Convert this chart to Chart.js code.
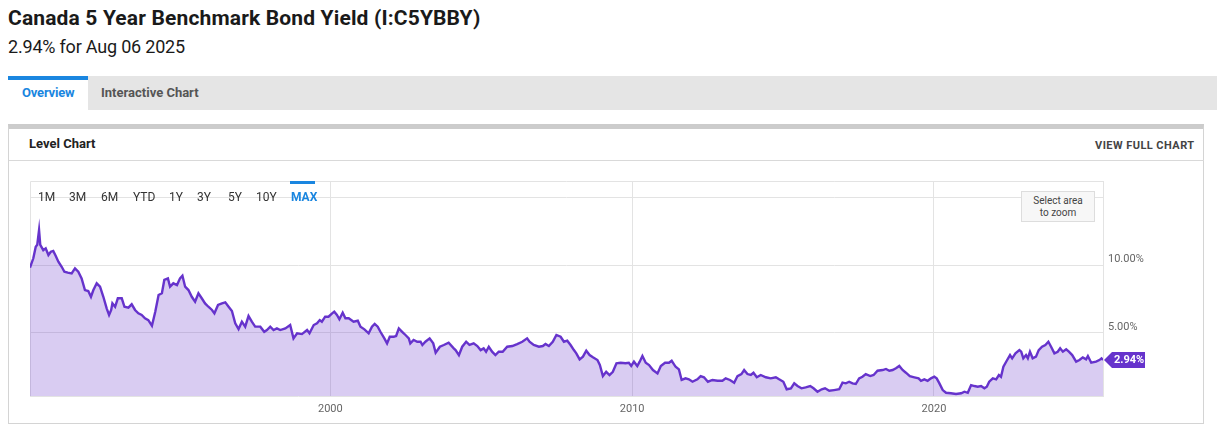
<!DOCTYPE html>
<html>
<head>
<meta charset="utf-8">
<script src="https://cdn.jsdelivr.net/npm/chart.js@4/dist/chart.umd.min.js"></script>
<style>
  html, body { margin: 0; padding: 0; background: #fff; }
  body { width: 1217px; height: 428px; position: relative; overflow: hidden; font-family: Roboto, "Noto Sans", sans-serif; }
  .abs { position: absolute; line-height: 1; white-space: nowrap; }
  #title { left: 8px; top: 8px; font-size: 21px; font-weight: 700; color: #1a1a1a; letter-spacing: 0.15px; }
  #subtitle { left: 8px; top: 38px; font-size: 18px; color: #1a1a1a; letter-spacing: -0.2px; }
  #tabbar { position: absolute; left: 8px; top: 76px; width: 1209px; height: 34px; background: #e5e5e5; }
  #tab-active { position: absolute; left: 8px; top: 76px; width: 80px; height: 34px; background: #fff; border-top: 4px solid #1a86e0; box-sizing: border-box; }
  #tab1 { left: 22px; top: 86px; font-size: 13px; font-weight: 700; color: #1a86e0; letter-spacing: -0.2px; }
  #tab2 { left: 101px; top: 86px; font-size: 13px; font-weight: 700; color: #555; }
  #panel { position: absolute; left: 8px; top: 124px; width: 1196px; height: 300px; border: 1px solid #d4d4d4; border-top: 5px solid #cccccc; box-sizing: border-box; }
  #panel-sep { position: absolute; left: 9px; top: 160px; width: 1195px; height: 1px; background: #d9d9d9; }
  #level { left: 29px; top: 137px; font-size: 13px; font-weight: 700; color: #222; }
  #viewfull { left: 1095px; top: 140px; font-size: 11px; font-weight: 700; color: #444; letter-spacing: 0.45px; }
  #chart-box { position: absolute; left: 0px; top: 161px; width: 1203px; height: 262px; }
  .rng { position: absolute; top: 191px; font-size: 12px; color: #333; line-height: 1; }
  #rng-max { color: #1a86e0; font-weight: 700; }
  #rng-bar { position: absolute; left: 290px; top: 181px; width: 25px; height: 3px; background: #1a86e0; }
  #zoombox { position: absolute; left: 1021px; top: 191px; width: 74px; height: 31px; background: #f7f7f7; border: 1px solid #dddddd; box-sizing: border-box; font-size: 10px; color: #444; text-align: center; line-height: 12px; padding-top: 3px; }
</style>
</head>
<body>
<div class="abs" id="title">Canada 5 Year Benchmark Bond Yield (I:C5YBBY)</div>
<div class="abs" id="subtitle">2.94% for Aug 06 2025</div>
<div id="tabbar"></div>
<div id="tab-active"></div>
<div class="abs" id="tab1">Overview</div>
<div class="abs" id="tab2">Interactive Chart</div>
<div id="panel"></div>
<div id="panel-sep"></div>
<div class="abs" id="level">Level Chart</div>
<div class="abs" id="viewfull">VIEW FULL CHART</div>
<div id="chart-box"><canvas id="bond-chart"></canvas></div>
<div id="rng-bar"></div>
<div class="rng" style="left:38px">1M</div>
<div class="rng" style="left:69px">3M</div>
<div class="rng" style="left:101px">6M</div>
<div class="rng" style="left:133px">YTD</div>
<div class="rng" style="left:169px">1Y</div>
<div class="rng" style="left:197px">3Y</div>
<div class="rng" style="left:228px">5Y</div>
<div class="rng" style="left:256px">10Y</div>
<div class="rng" id="rng-max" style="left:291px">MAX</div>
<div id="zoombox">Select area<br>to zoom</div>
<script>
// decimal years
const years = [
  1990.05,1990.16,1990.24,1990.29,1990.35,1990.39,1990.49,1990.57,1990.66,1990.74,1990.82,1990.90,1990.99,
  1991.10,1991.19,1991.30,1991.43,1991.54,1991.65,1991.76,1991.87,1991.98,
  1992.07,1992.15,1992.26,1992.37,1992.48,1992.59,1992.67,1992.74,1992.78,1992.87,1992.96,
  1993.09,1993.18,1993.31,1993.42,1993.53,1993.64,1993.75,1993.86,1993.97,
  1994.09,1994.20,1994.31,1994.42,1994.50,1994.62,1994.69,1994.80,1994.92,
  1995.02,1995.10,1995.19,1995.30,1995.41,1995.52,1995.63,1995.74,1995.85,1995.96,
  1996.08,1996.16,1996.28,1996.41,1996.52,1996.63,1996.74,1996.85,1996.96,
  1997.07,1997.18,1997.29,1997.40,1997.51,1997.68,1997.81,1997.90,
  1998.01,1998.12,1998.23,1998.34,1998.51,1998.67,1998.78,1998.90,
  1999.06,1999.23,1999.31,1999.45,1999.56,1999.65,1999.72,1999.83,1999.94,
  2000.06,2000.13,2000.22,2000.30,2000.41,2000.50,2000.61,2000.77,2000.91,
  2001.00,2001.13,2001.27,2001.38,2001.47,2001.57,2001.66,2001.79,2001.88,2001.97,
  2002.10,2002.18,2002.27,2002.38,2002.49,2002.60,2002.65,2002.76,2002.88,2002.99,
  2003.05,2003.15,2003.29,2003.41,2003.49,2003.63,2003.76,2003.92,
  2004.09,2004.15,2004.26,2004.37,2004.50,2004.61,2004.75,2004.87,2004.98,
  2005.08,2005.16,2005.25,2005.36,2005.47,2005.58,2005.71,2005.86,
  2006.03,2006.19,2006.36,2006.52,2006.60,2006.74,2006.91,
  2007.04,2007.13,2007.24,2007.37,2007.49,2007.63,2007.74,2007.85,2007.96,
  2008.07,2008.15,2008.26,2008.37,2008.48,2008.59,2008.70,2008.85,2008.93,
  2009.03,2009.14,2009.25,2009.36,2009.48,2009.62,2009.78,2009.89,2009.97,
  2010.06,2010.17,2010.25,2010.34,2010.45,2010.56,2010.69,2010.84,2010.95,
  2011.09,2011.22,2011.31,2011.44,2011.55,2011.64,2011.77,2011.88,
  2012.00,2012.16,2012.27,2012.38,2012.51,2012.66,2012.83,2012.99,
  2013.10,2013.24,2013.38,2013.49,2013.62,2013.71,2013.82,2013.93,
  2014.02,2014.13,2014.26,2014.43,2014.59,2014.76,2014.87,
  2015.01,2015.12,2015.26,2015.37,2015.48,2015.61,2015.75,2015.90,
  2016.01,2016.14,2016.28,2016.39,2016.53,2016.69,2016.86,2016.97,
  2017.08,2017.19,2017.30,2017.41,2017.52,2017.63,2017.74,2017.89,
  2018.00,2018.13,2018.30,2018.41,2018.52,2018.63,2018.74,2018.85,2018.96,
  2019.07,2019.20,2019.35,2019.49,2019.57,2019.68,2019.79,2019.90,
  2020.01,2020.09,2020.18,2020.29,2020.40,2020.56,2020.73,2020.90,
  2021.01,2021.12,2021.23,2021.34,2021.45,2021.56,2021.67,2021.75,2021.83,2021.95,
  2022.06,2022.15,2022.22,2022.30,2022.41,2022.52,2022.59,2022.70,2022.83,2022.89,2022.96,
  2023.05,2023.11,2023.18,2023.27,2023.38,2023.47,2023.58,2023.69,2023.79,2023.88,2023.99,
  2024.10,2024.18,2024.27,2024.38,2024.47,2024.58,2024.71,2024.82,2024.93,
  2025.04,2025.10,2025.21,2025.37,2025.48,2025.55,2025.60
];

// yield in percent
const yields = [
  9.80,10.50,11.36,11.50,12.60,11.50,11.10,11.24,10.74,10.99,11.04,10.69,10.25,
  9.87,9.50,9.43,9.38,9.75,9.50,9.01,8.14,8.07,
  7.64,8.14,8.64,8.39,7.64,6.78,6.29,6.66,7.15,6.90,7.53,
  7.53,6.90,6.83,7.08,6.66,6.41,6.29,6.04,5.91,
  5.49,6.53,7.77,7.90,8.89,9.01,8.39,8.64,8.51,
  9.01,9.20,8.39,8.14,7.64,7.27,7.90,7.53,7.15,6.90,
  6.66,6.41,7.03,7.15,7.23,6.90,6.58,5.67,5.24,
  5.79,5.42,6.21,5.79,5.42,5.42,5.04,5.17,
  5.42,5.17,5.29,5.17,5.29,5.54,4.55,4.93,
  4.87,5.17,4.93,5.54,5.67,5.91,5.79,6.16,6.16,
  6.41,6.53,6.29,5.97,6.46,6.04,6.04,5.79,5.86,
  5.42,5.22,4.93,5.42,5.62,5.42,5.04,4.55,4.18,4.67,
  4.67,4.73,5.29,5.04,4.80,4.55,4.18,4.43,4.30,4.30,
  4.06,4.30,4.55,4.18,3.48,3.93,4.06,4.23,
  3.81,3.68,3.31,3.93,4.30,4.06,4.18,3.98,3.68,
  3.81,3.56,3.93,3.56,3.31,3.56,3.56,3.93,
  3.98,4.13,4.30,4.55,4.30,4.06,3.93,
  3.98,4.13,3.98,4.30,4.80,4.67,4.30,4.38,4.06,
  3.68,3.44,2.99,3.19,3.63,3.31,3.14,2.94,2.57,
  1.75,2.07,1.83,2.07,2.70,2.74,2.70,2.74,2.50,
  2.82,2.50,2.82,3.24,2.74,2.57,2.20,1.95,2.50,
  2.74,2.74,2.89,2.44,2.25,1.46,1.58,1.51,
  1.33,1.51,1.75,1.66,1.33,1.46,1.40,1.40,
  1.58,1.46,1.26,1.75,1.90,2.20,1.90,1.83,
  2.00,1.66,1.83,1.66,1.58,1.66,1.51,
  1.33,0.77,0.84,1.21,1.01,0.84,0.91,1.01,
  0.84,0.59,0.77,0.84,0.66,0.71,0.77,1.26,
  1.21,1.33,1.21,1.16,1.58,1.70,1.90,1.75,
  1.83,2.15,2.20,2.28,2.15,2.20,2.33,2.50,2.20,
  2.00,1.75,1.66,1.58,1.40,1.51,1.40,1.58,
  1.70,1.58,1.21,0.71,0.51,0.47,0.42,0.47,
  0.59,0.51,1.08,1.01,0.96,1.01,0.84,0.96,1.33,1.58,
  1.51,1.83,1.70,2.44,2.89,3.31,3.07,3.44,3.68,3.56,3.07,
  3.31,3.07,3.56,3.07,3.19,3.68,3.93,4.06,4.30,3.93,3.44,
  3.56,3.81,3.56,3.74,3.56,3.31,2.82,2.94,3.14,
  2.99,3.24,2.74,2.82,2.94,3.07,2.94
];

const yearTicks = [2000, 2010, 2020];
const yieldTicks = [5, 10, 15];
const shownYieldTicks = [5, 10];

const LINE = '#6633cc';
const GRID = '#e3e3e3';

const points = years.map((y, i) => ({ x: y, y: yields[i] }));

// frame lines round the plot + the last value tag on the right
const framePlugin = {
  id: 'frame',
  beforeDatasetsDraw(chart) {
    const { ctx, chartArea: a } = chart;
    ctx.save();
    ctx.strokeStyle = GRID;
    ctx.lineWidth = 1;
    ctx.beginPath();
    ctx.moveTo(a.left + 0.5, a.bottom);
    ctx.lineTo(a.left + 0.5, a.top + 0.5);
    ctx.lineTo(a.right, a.top + 0.5);
    ctx.stroke();
    ctx.restore();
  },
  afterDraw(chart) {
    const { ctx, chartArea: a } = chart;
    const last = yields[yields.length - 1];
    const py = chart.scales.y.getPixelForValue(last);
    const x0 = a.right + 1;
    ctx.save();
    ctx.fillStyle = LINE;
    ctx.beginPath();
    ctx.moveTo(x0, py);
    ctx.lineTo(x0 + 8, py - 8);
    ctx.lineTo(x0 + 41, py - 8);
    ctx.lineTo(x0 + 41, py + 8);
    ctx.lineTo(x0 + 8, py + 8);
    ctx.closePath();
    ctx.fill();
    ctx.fillStyle = '#fff';
    ctx.font = 'bold 11px Roboto';
    ctx.textAlign = 'left';
    ctx.textBaseline = 'middle';
    ctx.fillText(last.toFixed(2) + '%', x0 + 10, py + 0.5);
    ctx.restore();
  }
};

new Chart(document.getElementById('bond-chart'), {
  type: 'line',
  data: {
    datasets: [{
      label: 'Canada 5 Year Benchmark Bond Yield',
      data: points,
      borderColor: LINE,
      borderWidth: 2.4,
      backgroundColor: 'rgba(102, 51, 204, 0.25)',
      fill: 'start',
      pointRadius: 0,
      tension: 0
    }]
  },
  options: {
    responsive: true,
    maintainAspectRatio: false,
    animation: false,
    events: [],
    layout: { padding: { left: 30, top: 20, right: 0, bottom: 0 } },
    plugins: { legend: { display: false }, tooltip: { enabled: false } },
    scales: {
      x: {
        type: 'linear',
        min: 1990.05,
        max: 2025.6,
        afterBuildTicks: s => { s.ticks = yearTicks.map(v => ({ value: v })); },
        afterFit: s => { s.height = 27; },
        grid: { color: GRID, drawTicks: false },
        border: { display: true, color: GRID },
        ticks: {
          padding: 7,
          color: '#666',
          font: { family: 'Roboto', size: 11 },
          callback: v => String(v)
        }
      },
      y: {
        position: 'right',
        min: 0.27,
        max: 16.24,
        afterBuildTicks: s => { s.ticks = yieldTicks.map(v => ({ value: v })); },
        afterFit: s => { s.width = 100; },
        grid: { color: GRID, drawTicks: false },
        border: { display: true, color: GRID },
        ticks: {
          padding: 5,
          labelOffset: -5.5,
          color: '#666',
          font: { family: 'Roboto', size: 11 },
          callback: v => shownYieldTicks.includes(v) ? v.toFixed(2) + '%' : ''
        }
      }
    }
  },
  plugins: [framePlugin]
});
</script>
</body>
</html>
